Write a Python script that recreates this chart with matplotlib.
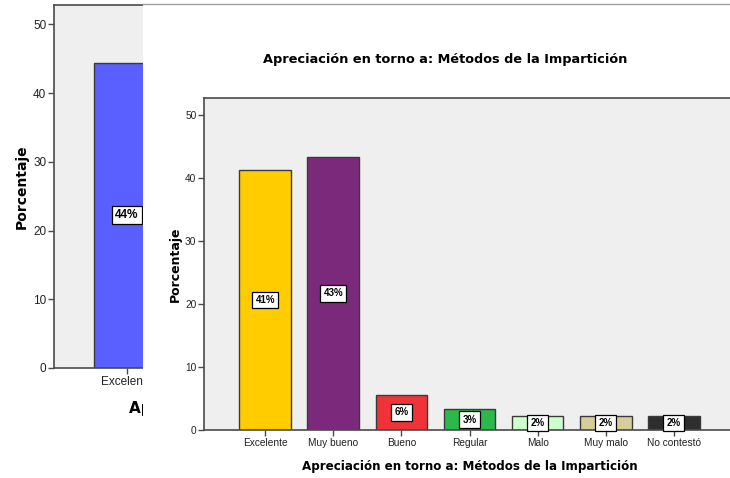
import matplotlib

matplotlib.use("Agg")

import matplotlib.pyplot as plt
from matplotlib.patches import Rectangle
from matplotlib.transforms import Bbox

# Front chart: appreciation of teaching methods
categories = ["Excelente", "Muy bueno", "Bueno", "Regular", "Malo", "Muy malo", "No contestó"]
percentages = [41.2, 43.4, 5.6, 3.3, 2.2, 2.2, 2.2]
bar_colors = ["#FFCC00", "#7B2A7B", "#EF3338", "#2DB84B", "#CCFFCC", "#D4CF9A", "#2E2E2E"]

# Chart sitting behind it (only its first bar shows)
back_categories = ["Excelente"]
back_percentages = [44.4]
back_colors = ["#5A5FFF"]

title = "Apreciación en torno a: Métodos de la Impartición"
y_ticks = [0, 10, 20, 30, 40, 50]

W, H = 730, 478
SHEET_LEFT = 143
PANEL_BG = "#EFEFEF"
FRAME = "#4A4A4A"


def box(fx0, fy_top, fx1, fy_bottom):
    """Pixel box (left, top, right, bottom) -> figure fraction rect."""
    return [fx0 / W, 1 - fy_bottom / H, (fx1 - fx0) / W, (fy_bottom - fy_top) / H]


def style_axes(ax, tick_size):
    ax.set_facecolor(PANEL_BG)
    for side in ("left", "top", "bottom", "right"):
        ax.spines[side].set_color(FRAME)
        ax.spines[side].set_linewidth(1.2)
    ax.tick_params(axis="both", direction="out", length=4, width=1, color=FRAME,
                   labelsize=tick_size, labelcolor="#222222", pad=1.5)
    ax.set_yticks(y_ticks)


def draw_bars(ax, names, values, colors, width, label_size, pad):
    xs = range(len(names))
    ax.bar(xs, values, width=width, color=colors, edgecolor="#3A3A3A", linewidth=1, zorder=2)
    ax.set_xticks(list(xs))
    ax.set_xticklabels(names)
    for x, v in zip(xs, values):
        ax.text(x, v / 2, f"{round(v)}%", ha="center", va="center", fontsize=label_size,
                fontweight="bold", family="Liberation Sans", zorder=3,
                bbox=dict(boxstyle=f"square,pad={pad}", facecolor="white",
                          edgecolor="black", linewidth=0.9))


fig = plt.figure(figsize=(W / 100, H / 100), dpi=100)
fig.patch.set_facecolor("white")
plt.rcParams["font.family"] = ["Liberation Sans", "DejaVu Sans"]

# back chart
ax_bg = fig.add_axes(box(54, 5, 538, 368), zorder=0)
style_axes(ax_bg, 8.5)
ax_bg.set_ylim(0, 52.8)
draw_bars(ax_bg, back_categories, back_percentages, back_colors, 0.75, 8.5, 0.25)
ax_bg.set_xlim(-0.83, 4.67)
ax_bg.set_ylabel("Porcentaje", fontsize=10, fontweight="bold", family="DejaVu Sans", labelpad=3)
ax_bg.set_xlabel(title, fontsize=11, fontweight="bold", family="DejaVu Sans", ha="left")
ax_bg.xaxis.set_label_coords((129 - 54) / (538 - 54), -0.088)
# the back chart's title runs under the front sheet: only draw its visible part
ax_bg.xaxis.label.set_clip_box(Bbox([[0, 0], [SHEET_LEFT, H]]))
ax_bg.xaxis.label.set_clip_on(True)

# white sheet of the front chart covering the back one
sheet = fig.add_axes(box(SHEET_LEFT, 4, 731, 479), zorder=1)
sheet.set_xticks([])
sheet.set_yticks([])
sheet.set_facecolor("white")
for side in ("left", "right", "bottom"):
    sheet.spines[side].set_visible(False)
sheet.spines["top"].set_color("#A0A0A0")
sheet.spines["top"].set_linewidth(1)
sheet.add_patch(Rectangle((0.495, 0.99), 0.6, 0.02, transform=sheet.transAxes,
                          facecolor="white", edgecolor="none", clip_on=False))

# front chart
ax = fig.add_axes(box(204, 98, 735, 430), zorder=2)
style_axes(ax, 7.3)
ax.set_ylim(0, 52.7)
draw_bars(ax, categories, percentages, bar_colors, 0.76, 7, 0.33)
ax.set_xlim(-0.9, 6.9)
ax.set_ylabel("Porcentaje", fontsize=9, fontweight="bold", family="DejaVu Sans", labelpad=2)
ax.set_xlabel(title, fontsize=8.6, fontweight="bold", family="DejaVu Sans", labelpad=9)
fig.text(445 / W, 1 - 60 / H, title, ha="center", va="center", fontsize=9.3,
         fontweight="bold", family="DejaVu Sans", zorder=3)

fig.savefig("out.png", dpi=100)
